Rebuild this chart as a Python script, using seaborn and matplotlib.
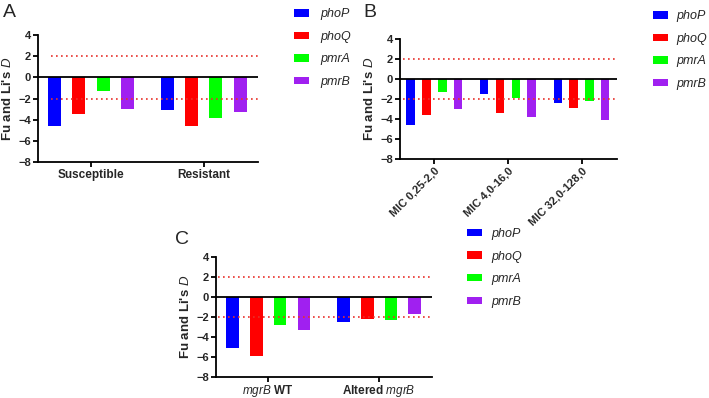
import pandas as pd
import numpy as np
import matplotlib
matplotlib.use('Agg')
import matplotlib.pyplot as plt
from matplotlib.patches import Patch
import seaborn as sns

sns.set_style('ticks')
plt.rcParams['font.family'] = ['Liberation Sans', 'DejaVu Sans']
plt.rcParams['mathtext.fontset'] = 'custom'
plt.rcParams['mathtext.rm'] = 'Liberation Sans'
plt.rcParams['mathtext.it'] = 'Liberation Sans:italic'
plt.rcParams['mathtext.bf'] = 'Liberation Sans:bold'

# genes (hue) and colours
genes = ['phoP', 'phoQ', 'pmrA', 'pmrB']
colors = ['#0000FF', '#FF0000', '#00FF00', '#A020F0']

# panel A
a_groups = ['Susceptible', 'Resistant']
a_susceptible = [-4.6, -3.5, -1.3, -3.0]
a_resistant = [-3.1, -4.6, -3.8, -3.3]

# panel B
b_groups = ['MIC 0,25-2,0', 'MIC 4,0-16,0', 'MIC 32,0-128,0']
b_mic_low = [-4.6, -3.55, -1.3, -3.0]
b_mic_mid = [-1.5, -3.4, -1.85, -3.8]
b_mic_high = [-2.4, -2.85, -2.2, -4.1]

# panel C
c_groups = ['mgrB WT', 'Altered mgrB']
c_tick_labels = [r'$\mathit{mgrB}$ WT', r'Altered $\mathit{mgrB}$']
c_wt = [-5.1, -5.9, -2.85, -3.3]
c_altered = [-2.5, -2.25, -2.3, -1.75]


def long_df(groups, rows):
    recs = []
    for g, vals in zip(groups, rows):
        for gene, v in zip(genes, vals):
            recs.append({'group': g, 'gene': gene, 'D': v})
    return pd.DataFrame(recs)


fig = plt.figure(figsize=(7.09, 3.98), dpi=100)

axA = fig.add_axes([0.0536, 0.593, 0.310, 0.319])
axB = fig.add_axes([0.564, 0.6005, 0.306, 0.3015])
axC = fig.add_axes([0.3047, 0.0528, 0.305, 0.3015])

panels = [
    (axA, long_df(a_groups, [a_susceptible, a_resistant]), a_groups, None, 0.06),
    (axB, long_df(b_groups, [b_mic_low, b_mic_mid, b_mic_high]), b_groups, None, 0.015),
    (axC, long_df(c_groups, [c_wt, c_altered]), c_groups, c_tick_labels, 0.01),
]

for ax, df, groups, ticklabels, xmin in panels:
    sns.barplot(data=df, x='group', y='D', hue='gene', order=groups,
                hue_order=genes, palette=colors, saturation=1,
                width=0.86, gap=0.465, linewidth=0, legend=False, ax=ax)
    n = len(groups)
    ax.set_xlim(-0.47, n - 1 + 0.48)
    ax.set_ylim(-8, 4)
    ax.set_yticks([4, 2, 0, -2, -4, -6, -8])
    ax.axhline(0, color='black', lw=1.3, zorder=3)
    for yy in (2, -2):
        ax.axhline(yy, xmin=xmin, xmax=1, color='#E8302A', lw=1.2,
                   ls=(0, (1, 2)), zorder=3)
    sns.despine(ax=ax)
    for s in ('left', 'bottom'):
        ax.spines[s].set_linewidth(1.3)
        ax.spines[s].set_color('black')
    ax.tick_params(axis='both', width=1.3, length=3.5, color='black',
                   labelsize=8, pad=1.5)
    for lbl in ax.get_yticklabels():
        lbl.set_fontweight('bold')
    ax.set_xlabel('')
    ax.set_ylabel(r"Fu and Li's $\mathit{D}$", fontsize=9.5,
                  fontweight='bold', labelpad=3)
    if ticklabels is not None:
        ax.set_xticks(range(n))
        ax.set_xticklabels(ticklabels)
    for lbl in ax.get_xticklabels():
        lbl.set_fontweight('bold')
        lbl.set_fontsize(8.5)

axC.tick_params(axis='x', pad=0.5)

for lbl in axB.get_xticklabels():
    lbl.set_rotation(45)
    lbl.set_ha('right')
    lbl.set_rotation_mode('anchor')
    lbl.set_fontsize(8)

handles = [Patch(facecolor=c, edgecolor='none') for c in colors]
legend_cfg = [(axA, (0.408, 0.992), 0.9),
              (axB, (0.914, 0.987), 0.7),
              (axC, (0.651, 0.44), 0.8)]
for ax, pos, tpad in legend_cfg:
    leg = ax.legend(handles, genes, loc='upper left', bbox_to_anchor=pos,
                    bbox_transform=fig.transFigure, frameon=False,
                    handlelength=1.2, handleheight=0.55, handletextpad=tpad,
                    labelspacing=0.85, borderaxespad=0, fontsize=9)
    for t in leg.get_texts():
        t.set_fontstyle('italic')

fig.text(0.004, 0.99, 'A', fontsize=14, va='top')
fig.text(0.513, 0.99, 'B', fontsize=14, va='top')
fig.text(0.247, 0.42, 'C', fontsize=14, va='top')

plt.savefig('out.png', dpi=100)
plt.close()
